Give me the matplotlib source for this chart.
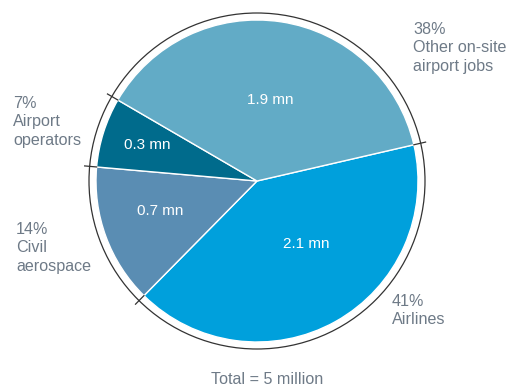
import numpy as np
import matplotlib
matplotlib.use("Agg")
import matplotlib.pyplot as plt
from matplotlib.patches import Circle

# Airport-related employment, share of total (5 million jobs)
segments = ["Airlines", "Civil\naerospace", "Airport\noperators", "Other on-site\nairport jobs"]
shares = [41, 14, 7, 38]
jobs_mn = [2.1, 0.7, 0.3, 1.9]
colors = ["#00a0dc", "#5a8db3", "#006b8c", "#62abc6"]
total_label = "Total = 5 million"

plt.rcParams["font.family"] = ["Liberation Sans", "DejaVu Sans"]

W, H = 509, 390
fig = plt.figure(figsize=(W / 100, H / 100), dpi=100)
ax = fig.add_axes([0, 0, 1, 1])

cx, cy = 257, 209
r_pie = 161
r_ring = 168
start = 13

wedges, _ = ax.pie(
    shares,
    colors=colors,
    startangle=start,
    counterclock=False,
    center=(cx, cy),
    radius=r_pie,
    wedgeprops=dict(edgecolor="white", linewidth=1.0),
)

# thin outer ring with ticks at the wedge boundaries
ax.add_patch(Circle((cx, cy), r_ring, fill=False, edgecolor="#333333", linewidth=0.9))
bounds = start - np.cumsum([0] + shares[:-1]) * 3.6
for a in bounds:
    t = np.deg2rad(a)
    ax.plot([cx + 161 * np.cos(t), cx + 173 * np.cos(t)],
            [cy + 161 * np.sin(t), cy + 173 * np.sin(t)],
            color="#333333", lw=0.9)

# values inside the wedges
inner_pos = [(306, 146), (160, 179), (147, 245), (270, 290)]
for (x, y), v in zip(inner_pos, jobs_mn):
    ax.text(x, y, f"{v} mn", color="white", fontsize=11, ha="center", va="center")

# outer labels
grey = "#6e7a87"
outer_pos = [(392, 96), (16, 168), (13, 294), (413, 368)]
for (x, y), s, name in zip(outer_pos, shares, segments):
    ax.text(x, y, f"{s}%\n{name}", color=grey, fontsize=11.6, ha="left", va="top",
            linespacing=1.28)

ax.text(267, 10, total_label, color=grey, fontsize=11.6, ha="center", va="center")

ax.set_xlim(0, W)
ax.set_ylim(0, H)
ax.set_aspect("auto")
ax.axis("off")

fig.savefig("out.png", dpi=100)
